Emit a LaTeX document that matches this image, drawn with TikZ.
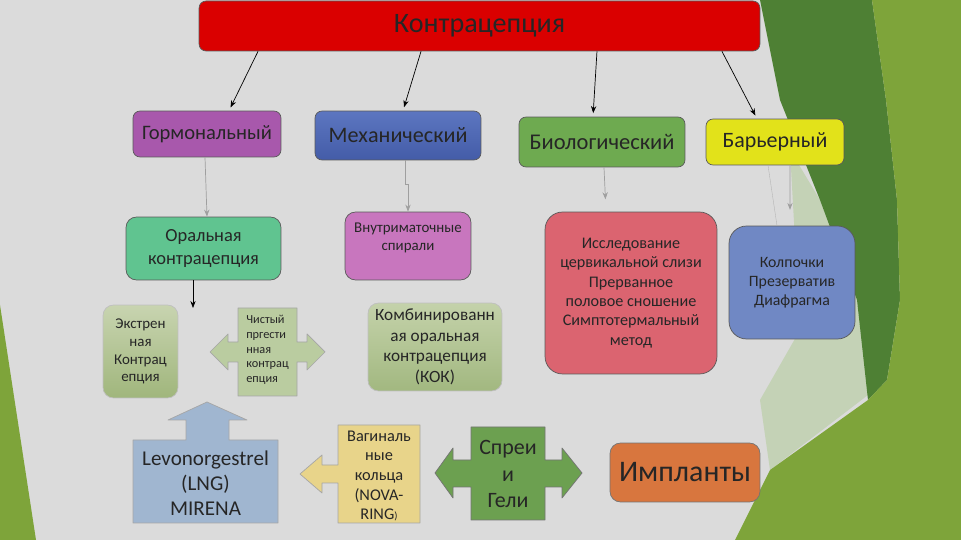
\documentclass[tikz,border=0pt]{standalone}
\usepackage{fontspec}
\setmainfont{Carlito}
\usetikzlibrary{arrows.meta}
\definecolor{bggray}{RGB}{219,219,219}
\definecolor{leafgreen}{RGB}{126,164,58}
\definecolor{darkleaf}{RGB}{78,128,52}
\definecolor{paleleaf}{RGB}{196,210,182}
\definecolor{titlered}{RGB}{218,0,0}
\newcommand{\fs}[1]{\fontsize{#1}{\dimexpr #1pt*12/10\relax}\selectfont}

\begin{document}
\begin{tikzpicture}[x=0.02cm, y=-0.02cm,
    box/.style={draw=black!65, thin, rounded corners=4pt, align=center, text=black!85, inner sep=1pt},
    bigbox/.style={box, rounded corners=10pt},
    soft/.style={box, draw=black!25, rounded corners=6pt},
    callout/.style={draw=black!35, thin, line join=round},
    arrow/.style={-{Stealth[length=4pt,width=3pt]}, thin},
    faint/.style={arrow, draw=gray!75}
]
\useasboundingbox (0,0) rectangle (961,540);
% background
\fill[bggray] (0,0) rectangle (961,540);
\fill[paleleaf] (790,150) -- (820,200) -- (857,300) -- (868,395) -- (770,470) -- (760,400) -- (800,330) -- cycle;
\fill[darkleaf] (760,0) -- (872,0) -- (886,100) -- (897,200) -- (900,300) -- (887,380) -- (868,400) -- (857,300) -- (820,200) -- (780,100) -- cycle;
\fill[leafgreen] (872,0) -- (961,0) -- (961,540) -- (735,540) -- (770,470) -- (868,400) -- (887,380) -- (900,300) -- (897,200) -- (886,100) -- cycle;
\fill[leafgreen] (0,305) -- (36,540) -- (0,540) -- cycle;
% callout shapes
\filldraw[callout, fill={rgb,255:red,186;green,204;blue,160}] (238,308) -- (297,308) -- (297,342) -- (307,342) -- (307,334) -- (325,352) -- (307,370) -- (307,362) -- (297,362) -- (297,396) -- (238,396) -- (238,362) -- (228,362) -- (228,370) -- (210,352) -- (228,334) -- (228,342) -- (238,342) -- cycle;
\filldraw[callout, fill={rgb,255:red,160;green,182;blue,208}] (133,440) -- (186,440) -- (186,420) -- (168,420) -- (207,402) -- (247,420) -- (229,420) -- (229,440) -- (278,440) -- (278,523) -- (133,523) -- cycle;
\filldraw[callout, fill={rgb,255:red,232;green,212;blue,138}] (338,425) -- (420,425) -- (420,523) -- (338,523) -- (338,483) -- (322,483) -- (322,493) -- (300,474) -- (322,455) -- (322,465) -- (338,465) -- cycle;
\filldraw[callout, draw=black!55, fill={rgb,255:red,108;green,160;blue,80}] (471,427) -- (545,427) -- (545,460) -- (562,460) -- (562,448) -- (582,473) -- (562,498) -- (562,487) -- (545,487) -- (545,520) -- (471,520) -- (471,487) -- (453,487) -- (453,498) -- (435,473) -- (453,448) -- (453,460) -- (471,460) -- cycle;
% title
\node[box, fill=titlered, minimum width=11.22cm, minimum height=1.0cm, font=\fs{16}] (top) at (479.5,26) {Контрацепция};
% methods row
\node[box, fill={rgb,255:red,168;green,88;blue,172}, minimum width=2.96cm, minimum height=0.92cm, font=\fs{11.7}] (horm) at (207,134) {Гормональный};
\node[box, top color={rgb,255:red,92;green,118;blue,192}, bottom color={rgb,255:red,68;green,92;blue,168}, minimum width=3.32cm, minimum height=0.98cm, font=\fs{12.6}] (mech) at (398,135.5) {Механический};
\node[box, fill={rgb,255:red,110;green,170;blue,80}, minimum width=3.32cm, minimum height=1.0cm, font=\fs{12.8}] (bio) at (602,142) {Биологический};
\node[box, fill={rgb,255:red,226;green,226;blue,26}, minimum width=2.76cm, minimum height=0.92cm, font=\fs{12.5}] (barr) at (775,142) {Барьерный};
% second row
\node[box, fill={rgb,255:red,96;green,196;blue,144}, rounded corners=6pt, minimum width=3.10cm, minimum height=1.26cm, font=\fs{10.5}] (oral) at (203.5,248.5) {Оральная\\контрацепция};
\node[box, fill={rgb,255:red,200;green,118;blue,190}, rounded corners=6pt, minimum width=2.52cm, minimum height=1.36cm, font=\fs{8.5}] (iud) at (408,246) {Внутриматочные\\спирали\\~};
\node[bigbox, fill={rgb,255:red,219;green,100;blue,112}, minimum width=3.44cm, minimum height=3.24cm, font=\fs{9.2}] (study) at (631,293) {Исследование\\цервикальной слизи\\Прерванное\\половое сношение\\Симптотермальный\\метод};
\node[bigbox, fill={rgb,255:red,112;green,136;blue,196}, minimum width=2.52cm, minimum height=2.26cm, font=\fs{9}] (caps) at (792,282.5) {Колпочки\\Презерватив\\Диафрагма};
% oral types
\node[soft, top color={rgb,255:red,200;green,212;blue,176}, bottom color={rgb,255:red,160;green,182;blue,124}, minimum width=1.50cm, minimum height=1.86cm, font=\fs{8.5}] (emerg) at (140.5,351.5) {Экстрен\\ная\\Контрац\\епция};
\node[align=left, inner sep=0pt, text=black!85, font=\fs{7}] (pure) at (267.5,350) {Чистый\\пргести\\нная\\контрац\\епция};
\node[soft, top color={rgb,255:red,196;green,210;blue,170}, bottom color={rgb,255:red,162;green,184;blue,128}, minimum width=2.68cm, minimum height=1.76cm, font=\fs{9.8}] (kok) at (435,347) {Комбинированн\\ая оральная\\контрацепция\\(КОК)};
% bottom row
\node[align=center, text=black!85, font=\fs{12}] (lng) at (205.5,483) {Levonorgestrel\\(LNG)\\MIRENA};
\node[align=center, text=black!85, font=\fs{9.3}] (ring) at (379,476) {Вагиналь\\ные\\кольца\\(NOVA-\\RING{\fs{6})}};
\node[align=center, text=black!85, font=\fs{12.5}] (spray) at (508,474) {Спреи\\и\\Гели};
\node[box, draw=black!55, fill={rgb,255:red,216;green,118;blue,62}, rounded corners=6pt, minimum width=3.0cm, minimum height=1.18cm, font=\fs{17}] (impl) at (685,472.5) {Импланты};
% arrows
\foreach \s/\n/\e in {-4.43/horm/0.44, -1.17/mech/0.1, 2.35/bio/-0.18, 4.85/barr/-0.36}
    \draw[arrow, shorten >=2pt] ([xshift=\s cm]top.south) -- ([xshift=\e cm]\n.north);
\draw[faint] ([xshift=-0.04cm]horm.south) -- ([xshift=0.07cm]oral.north);
\draw[faint] ([xshift=0.14cm]mech.south) -- ++(0,24) -| (iud.north);
\draw[faint, shorten >=7pt] ([xshift=0.04cm]bio.south) -- ([xshift=-0.5cm]study.north);
\draw[faint, shorten >=9pt] ([xshift=0.3cm]barr.south) -- ([xshift=-0.04cm]caps.north);
\draw[gray!60, very thin] ([xshift=-0.14cm]barr.south) -- ([xshift=-0.3cm]caps.north);
\coordinate (oralend) at (193,308);
\draw[arrow] (oral.south -| oralend) -- (oralend);
\end{tikzpicture}
\end{document}
